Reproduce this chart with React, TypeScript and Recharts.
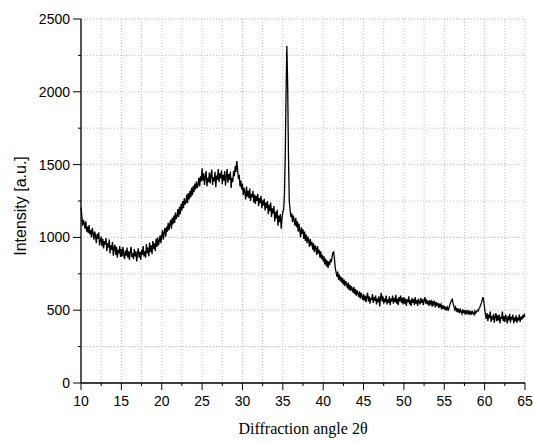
import { LineChart, Line, XAxis, YAxis, CartesianGrid, Label } from "recharts"

// XRD scan, one reading every 0.1 deg (2θ) in 5 deg blocks
const startAngle = 10
const stepAngle = 0.1

const i10 = [1205, 1150, 1080, 1120, 1095, 1060, 1110, 1040, 1075, 1030, 1085, 1020, 1050, 1000, 1065, 1030, 985, 1040, 1010, 960, 1025, 990, 1035, 945, 980, 1005, 940, 990, 925, 975, 950, 995, 905, 960, 930, 985, 890, 945, 915, 970, 875, 930, 950, 880, 935, 860, 915, 890, 940, 865]
const i15 = [920, 870, 935, 880, 850, 910, 875, 930, 860, 905, 845, 900, 935, 865, 890, 850, 920, 870, 905, 835, 890, 925, 860, 900, 845, 915, 880, 940, 870, 905, 860, 955, 890, 930, 870, 965, 900, 945, 885, 975, 920, 960, 905, 990, 935, 1000, 945, 975, 1015, 960]
const i20 = [1010, 1050, 985, 1030, 1065, 1005, 1075, 1040, 1100, 1050, 1090, 1120, 1060, 1135, 1090, 1150, 1100, 1170, 1125, 1145, 1195, 1140, 1210, 1160, 1230, 1185, 1250, 1200, 1270, 1225, 1240, 1295, 1235, 1305, 1260, 1320, 1275, 1340, 1290, 1355, 1310, 1370, 1330, 1385, 1340, 1360, 1410, 1350, 1420, 1385]
const i25 = [1475, 1390, 1440, 1360, 1420, 1455, 1350, 1410, 1380, 1445, 1370, 1430, 1465, 1360, 1415, 1385, 1450, 1345, 1425, 1395, 1470, 1380, 1440, 1405, 1460, 1365, 1430, 1390, 1455, 1355, 1420, 1470, 1375, 1435, 1395, 1450, 1340, 1410, 1380, 1455, 1420, 1490, 1450, 1525, 1470, 1400, 1430, 1350, 1390, 1330]
const i30 = [1370, 1290, 1340, 1305, 1260, 1350, 1280, 1320, 1270, 1335, 1250, 1300, 1275, 1320, 1240, 1295, 1230, 1285, 1250, 1300, 1215, 1270, 1235, 1285, 1200, 1255, 1220, 1265, 1185, 1240, 1200, 1250, 1160, 1225, 1180, 1240, 1140, 1200, 1165, 1215, 1110, 1175, 1130, 1190, 1080, 1150, 1105, 1160, 1060, 1130]
const i35 = [1175, 1190, 1290, 1560, 1980, 2315, 2050, 1560, 1250, 1190, 1140, 1165, 1105, 1150, 1120, 1080, 1135, 1070, 1110, 1040, 1095, 1050, 1000, 1070, 1025, 1055, 990, 1040, 975, 1020, 960, 1005, 980, 935, 990, 945, 970, 915, 960, 900, 945, 925, 880, 940, 890, 915, 860, 905, 850, 880]
const i40 = [835, 870, 815, 855, 800, 840, 790, 835, 810, 850, 830, 865, 895, 900, 850, 790, 760, 730, 765, 710, 745, 700, 730, 690, 720, 675, 710, 665, 700, 680, 650, 690, 640, 675, 630, 665, 645, 620, 660, 610, 645, 600, 635, 615, 590, 630, 580, 620, 595, 570]
const i45 = [610, 565, 600, 555, 590, 620, 560, 595, 545, 585, 570, 610, 550, 590, 565, 600, 540, 580, 555, 595, 525, 585, 620, 560, 595, 545, 580, 555, 600, 540, 575, 550, 595, 535, 580, 560, 600, 545, 585, 555, 605, 545, 580, 535, 590, 560, 600, 550, 585, 540]
const i50 = [590, 545, 580, 530, 575, 555, 595, 540, 570, 530, 585, 550, 575, 535, 590, 545, 570, 530, 580, 555, 540, 585, 550, 575, 535, 570, 590, 545, 575, 540, 565, 530, 570, 545, 560, 525, 565, 540, 555, 520, 555, 530, 550, 515, 545, 525, 540, 505, 535, 510]
const i55 = [530, 500, 525, 505, 520, 495, 520, 540, 555, 570, 575, 545, 525, 505, 520, 490, 515, 485, 510, 480, 505, 490, 475, 505, 480, 500, 470, 495, 480, 500, 470, 490, 475, 495, 470, 490, 480, 470, 495, 480, 490, 500, 495, 510, 520, 535, 550, 570, 590, 560]
const i60 = [510, 470, 440, 480, 425, 470, 445, 490, 420, 460, 435, 475, 415, 455, 480, 425, 465, 430, 470, 410, 455, 440, 490, 425, 460, 420, 470, 445, 410, 460, 430, 475, 415, 455, 435, 470, 410, 450, 425, 465, 415, 450, 430, 470, 420, 455, 435, 465, 445, 470, 455]

const intensity = [...i10, ...i15, ...i20, ...i25, ...i30, ...i35, ...i40, ...i45, ...i50, ...i55, ...i60]

const xTicks = [10, 12.5, 15, 17.5, 20, 22.5, 25, 27.5, 30, 32.5, 35, 37.5, 40, 42.5, 45, 47.5, 50, 52.5, 55, 57.5, 60, 62.5, 65]
const yTicks = [0, 250, 500, 750, 1000, 1250, 1500, 1750, 2000, 2250, 2500]

const data = intensity.map((v, i) => ({
  angle: Number((startAngle + i * stepAngle).toFixed(1)),
  counts: v,
}))

const sans = "'Liberation Sans', Arial, sans-serif"
const serif = "'Liberation Serif', 'Times New Roman', serif"

const XTick = (props: any) => {
  const { x, y, payload } = props
  const major = payload.value % 5 === 0
  return (
    <g>
      <line x1={x} x2={x} y1={y} y2={y + (major ? 7 : 3)} stroke="#000" />
      {major && (
        <text x={x} y={y + 23} textAnchor="middle" fontSize={14} fontFamily={sans} fill="#000">
          {payload.value}
        </text>
      )}
    </g>
  )
}

const YTick = (props: any) => {
  const { x, y, payload } = props
  const major = payload.value % 500 === 0
  return (
    <g>
      <line x1={x - (major ? 8 : 3)} x2={x} y1={y} y2={y} stroke="#000" />
      {major && (
        <text x={x - 11} y={y + 5} textAnchor="end" fontSize={14} fontFamily={sans} fill="#000">
          {payload.value}
        </text>
      )}
    </g>
  )
}

const RightTick = (props: any) => {
  const { x, y, payload } = props
  const major = payload.value % 500 === 0
  return <line x1={x - (major ? 6 : 3)} x2={x} y1={y} y2={y} stroke="#000" />
}

export default function App() {
  return (
    <div>
      <style>{"body { margin: 0; }"}</style>
      <LineChart width={534} height={442} data={data} margin={{ top: 19, right: 9, left: 0, bottom: 0 }}>
        <CartesianGrid stroke="#c0c0c0" strokeDasharray="1 2" />
        <XAxis
          dataKey="angle"
          type="number"
          domain={[10, 65]}
          ticks={xTicks}
          interval={0}
          height={59}
          tickSize={0}
          tickMargin={0}
          tickLine={false}
          tick={<XTick />}
          axisLine={{ stroke: "#000", strokeWidth: 1.3 }}
        >
          <Label
            content={() => (
              <text x={303} y={434} textAnchor="middle" fontSize={16} fontFamily={serif} fill="#000">
                Diffraction angle 2θ
              </text>
            )}
          />
        </XAxis>
        <XAxis xAxisId="top" orientation="top" type="number" domain={[10, 65]} height={0} tick={false} tickLine={false} axisLine={{ stroke: "#000", strokeWidth: 1.3 }} />
        <YAxis
          type="number"
          domain={[0, 2500]}
          ticks={yTicks}
          interval={0}
          width={81}
          tickSize={0}
          tickMargin={0}
          tickLine={false}
          tick={<YTick />}
          axisLine={{ stroke: "#000", strokeWidth: 1.3 }}
        >
          <Label
            content={() => (
              <text
                x={20}
                y={206}
                transform="rotate(-90, 20, 206)"
                textAnchor="middle"
                dominantBaseline="central"
                fontSize={16}
                fontFamily={sans}
                fill="#000"
              >
                Intensity [a.u.]
              </text>
            )}
          />
        </YAxis>
        <YAxis
          yAxisId="right"
          orientation="right"
          type="number"
          domain={[0, 2500]}
          ticks={yTicks}
          interval={0}
          width={0}
          tickSize={0}
          tickMargin={0}
          tickLine={false}
          tick={<RightTick />}
          axisLine={{ stroke: "#000", strokeWidth: 1.3 }}
        />
        <Line
          type="linear"
          dataKey="counts"
          stroke="#000"
          strokeWidth={1.3}
          dot={false}
          isAnimationActive={false}
        />
      </LineChart>
    </div>
  )
}
